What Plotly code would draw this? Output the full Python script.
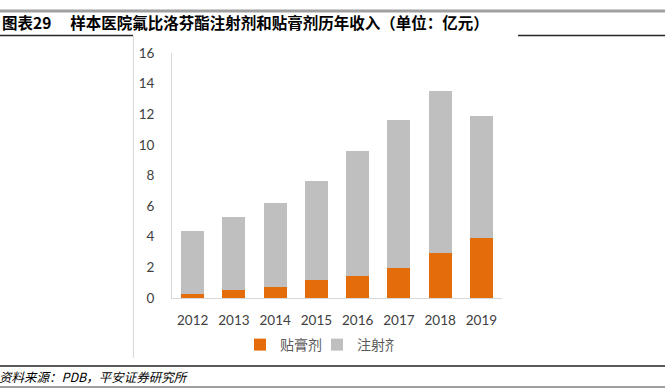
import plotly.graph_objects as go

years = ["2012", "2013", "2014", "2015", "2016", "2017", "2018", "2019"]
patch = [0.28, 0.55, 0.72, 1.16, 1.44, 1.94, 2.95, 3.89]          # 贴膏剂
injection = [4.11, 4.75, 5.50, 6.48, 8.14, 9.67, 10.54, 8.01]     # 注射剂
y_ticks = [0, 2, 4, 6, 8, 10, 12, 14, 16]

W, H = 665, 389
L, R, T, B = 172, 502, 53, 298   # plot area in pixels


def px(x):
    return x / W


def py(y):
    return 1 - y / H


fig = go.Figure()
fig.add_trace(go.Bar(x=years, y=patch, name="贴膏剂", marker_color="#E46C0A",
                     marker_line_width=0))
fig.add_trace(go.Bar(x=years, y=injection, name="注射剂", marker_color="#BFBFBF",
                     marker_line_width=0))

shapes = [
    dict(type="line", xref="paper", yref="paper", x0=0, x1=1, y0=py(11), y1=py(11),
         line=dict(color="#A0A0A0", width=3)),
    dict(type="line", xref="paper", yref="paper", x0=0, x1=px(133), y0=py(35.5), y1=py(35.5),
         line=dict(color="#262626", width=1.5)),
    dict(type="line", xref="paper", yref="paper", x0=px(518), x1=1, y0=py(35.5), y1=py(35.5),
         line=dict(color="#262626", width=1.5)),
    dict(type="line", xref="paper", yref="paper", x0=px(133.5), x1=px(133.5), y0=py(36), y1=py(358),
         line=dict(color="#D9D9D9", width=1)),
    dict(type="line", xref="paper", yref="paper", x0=0, x1=1, y0=py(366), y1=py(366),
         line=dict(color="#595959", width=2)),
    dict(type="line", xref="paper", yref="paper", x0=0, x1=1, y0=py(387), y1=py(387),
         line=dict(color="#7F7F7F", width=1.5)),
]

annotations = [
    dict(text="<b>图表29　 样本医院氟比洛芬酯注射剂和贴膏剂历年收入（单位：亿元）</b>",
         xref="paper", yref="paper", x=0, y=py(21.5), xanchor="left", yanchor="middle",
         showarrow=False, font=dict(family="Noto Sans CJK SC", size=15.5, color="#000000")),
    dict(text="资料来源：PDB，平安证券研究所",
         xref="paper", yref="paper", x=px(-3), y=py(376.5), xanchor="left", yanchor="middle",
         showarrow=False, font=dict(family="Noto Sans CJK SC", size=12.5, color="#000000",
                                    style="italic")),
]

fig.update_layout(
    width=W, height=H,
    margin=dict(l=0, r=0, t=0, b=0, pad=0, autoexpand=False),
    paper_bgcolor="white", plot_bgcolor="white",
    barmode="stack", bargap=0.44,
    shapes=shapes, annotations=annotations,
    legend=dict(orientation="h", x=px(240), xanchor="left", y=py(345), yanchor="middle",
                traceorder="normal", font=dict(family="Noto Sans CJK SC", size=14, color="#595959"),
                itemwidth=30, entrywidth=32, bgcolor="rgba(0,0,0,0)"),
    xaxis=dict(domain=[px(L), px(R)], showline=True, linecolor="#D9D9D9", linewidth=1,
               ticks="", showgrid=False, automargin=False,
               tickfont=dict(family="Lato", size=13.5, color="#404040"), ticklabelstandoff=10),
    yaxis=dict(domain=[py(B), py(T)], range=[0, 16], tickvals=y_ticks, showline=True,
               linecolor="#D9D9D9", linewidth=1, ticks="", showgrid=False, zeroline=False,
               automargin=False,
               tickfont=dict(family="Lato", size=13.5, color="#404040"), ticklabelstandoff=14),
)

fig.write_html("out.html", config={"displayModeBar": False},
               post_script="document.body.style.margin='0';document.body.style.overflow='hidden';")
